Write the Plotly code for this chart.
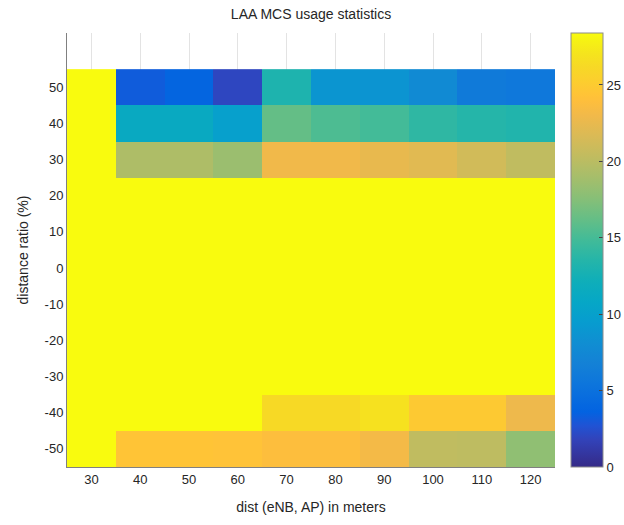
import plotly.graph_objects as go

# ---- data ----
dist_m = [30, 40, 50, 60, 70, 80, 90, 100, 110, 120]
ratio_pct = [-50, -40, -30, -20, -10, 0, 10, 20, 30, 40, 50]

mcs_m50 = [28.4, 24.4, 24.4, 24.3, 23.9, 23.9, 23.2, 20.3, 20.2, 18.0]
mcs_m40 = [28.4, 28.4, 28.4, 28.4, 26.2, 26.2, 26.8, 24.8, 24.8, 22.8]
mcs_m30 = [28.4] * 10
mcs_m20 = [28.4] * 10
mcs_m10 = [28.4] * 10
mcs_0 = [28.4] * 10
mcs_p10 = [28.4] * 10
mcs_p20 = [28.4] * 10
mcs_p30 = [28.4, 19.4, 19.4, 18.5, 23.0, 23.0, 22.5, 22.1, 21.2, 20.3]
mcs_p40 = [28.4, 11.3, 11.3, 9.9, 16.2, 15.3, 14.9, 14.0, 13.5, 13.3]
mcs_p50 = [28.4, 3.2, 3.8, 2.0, 13.1, 8.8, 8.7, 7.7, 6.0, 5.7]

colorbar_ticks = [0, 5, 10, 15, 20, 25]

z = [mcs_m50, mcs_m40, mcs_m30, mcs_m20, mcs_m10, mcs_0,
     mcs_p10, mcs_p20, mcs_p30, mcs_p40, mcs_p50]

# ---- parula colormap (entry index out of 64, rgb) ----
parula = [
    (0, (0.2081, 0.1663, 0.5292)), (4, (0.1959, 0.2645, 0.7279)),
    (6, (0.1253, 0.3242, 0.8303)), (8, (0.0117, 0.3875, 0.8820)),
    (12, (0.0498, 0.4586, 0.8641)), (15, (0.0779, 0.5040, 0.8384)),
    (18, (0.0641, 0.5570, 0.8240)), (21, (0.0265, 0.6137, 0.8135)),
    (24, (0.0228, 0.6535, 0.7768)), (27, (0.0590, 0.6838, 0.7254)),
    (30, (0.1453, 0.7098, 0.6646)), (33, (0.2586, 0.7317, 0.5954)),
    (36, (0.3953, 0.7459, 0.5244)), (39, (0.5300, 0.7491, 0.4661)),
    (42, (0.6473, 0.7456, 0.4188)), (45, (0.7525, 0.7384, 0.3768)),
    (48, (0.8507, 0.7299, 0.3360)), (51, (0.9450, 0.7261, 0.2886)),
    (53, (0.9938, 0.7455, 0.2403)), (54, (0.9990, 0.7653, 0.2164)),
    (56, (0.9880, 0.8066, 0.1794)), (58, (0.9697, 0.8481, 0.1475)),
    (60, (0.9589, 0.8949, 0.1132)), (62, (0.9661, 0.9514, 0.0755)),
    (63, (0.9763, 0.9831, 0.0538)),
]
colorscale = [[k / 63, "rgb(%d,%d,%d)" % tuple(round(c * 255) for c in rgb)]
              for k, rgb in parula]

font_family = "Liberation Sans, Arial, Helvetica, sans-serif"
txt = "#262626"

fig = go.Figure(go.Heatmap(
    x=dist_m, y=ratio_pct, z=z,
    zmin=0, zmax=28.4,
    colorscale=colorscale,
    colorbar=dict(
        x=1.033, xanchor="left", xpad=0,
        y=0, yanchor="bottom", ypad=0, len=1,
        thickness=32,
        outlinecolor="#8c8c8c", outlinewidth=1,
        tickvals=colorbar_ticks,
        ticks="inside", ticklen=4, tickcolor="#444444",
        tickfont=dict(size=13, color=txt, family=font_family),
    ),
    hoverongaps=False,
))

fig.update_layout(
    width=624, height=525,
    margin=dict(l=67, r=69, t=33, b=58, autoexpand=False),
    paper_bgcolor="white", plot_bgcolor="white",
    font=dict(family=font_family, color=txt, size=13),
    title=dict(text="LAA MCS usage statistics", x=311 / 624, xanchor="center",
               y=1 - 14 / 525, yanchor="middle",
               font=dict(size=14, color=txt)),
    xaxis=dict(
        range=[25, 125], tickvals=dist_m, ticktext=[str(v) for v in dist_m],
        showgrid=True, gridcolor="#e3e3e3", gridwidth=1,
        zeroline=False, showline=True, linecolor="#808080", linewidth=1,
        ticks="", tickfont=dict(size=13),
        title=dict(text="dist (eNB, AP) in meters", font=dict(size=14), standoff=16),
    ),
    yaxis=dict(
        range=[-55, 65], tickvals=ratio_pct, ticktext=[str(v) for v in ratio_pct],
        showgrid=False, zeroline=False, showline=True, linecolor="#808080", linewidth=1,
        ticks="", tickfont=dict(size=13),
        title=dict(text="distance ratio (%)", font=dict(size=14), standoff=12),
    ),
)

fig.write_html("out.html")
